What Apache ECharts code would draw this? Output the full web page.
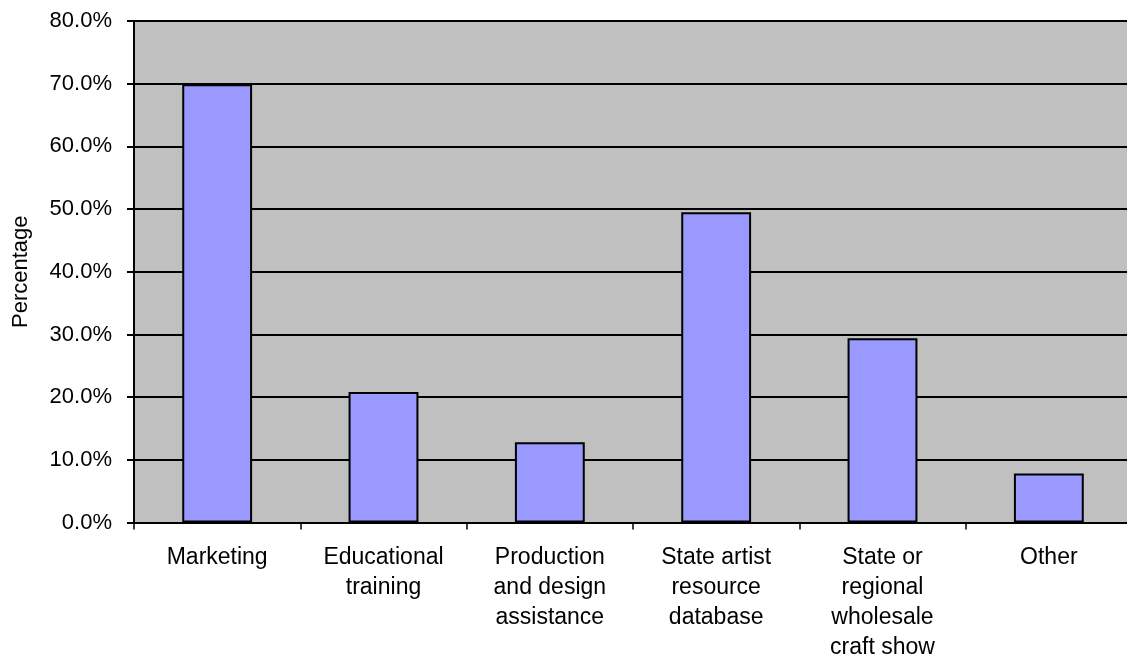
<!DOCTYPE html>
<html>
<head>
<meta charset="utf-8">
<script src="https://cdn.jsdelivr.net/npm/echarts@6/dist/echarts.min.js"></script>
<style>html,body{margin:0;padding:0;background:#fff}#c{width:1127px;height:655px}</style>
</head>
<body>
<div id="c"></div>
<script>
const categories = ["Marketing", "Educational\ntraining", "Production\nand design\nassistance", "State artist\nresource\ndatabase", "State or\nregional\nwholesale\ncraft show", "Other"];
const values = [69.9, 20.8, 12.8, 49.5, 29.4, 7.8];
const yAxisName = "Percentage";

const FONT = 'Arial, "Liberation Sans", sans-serif';
const chart = echarts.init(document.getElementById('c'), null, {renderer: 'canvas'});
chart.setOption({
  animation: false,
  grid: {left: 134, top: 21, right: -5, bottom: 132.5, containLabel: false, outerBoundsMode: 'none',
    show: true, backgroundColor: '#c0c0c0', borderColor: '#808080', borderWidth: 1},
  xAxis: {
    type: 'category', data: categories,
    axisLine: {lineStyle: {color: '#000', width: 2}},
    axisTick: {show: true, length: 7, lineStyle: {color: '#000', width: 1.5}},
    axisLabel: {color: '#000', fontFamily: FONT, fontSize: 23, lineHeight: 30, margin: 20, interval: 0}
  },
  yAxis: {
    type: 'value', min: 0, max: 80, interval: 10,
    name: yAxisName, nameLocation: 'middle', nameGap: 102,
    nameTextStyle: {color: '#000', fontFamily: FONT, fontSize: 22},
    axisLine: {show: true, lineStyle: {color: '#000', width: 2}},
    axisTick: {show: true, length: 7, lineStyle: {color: '#000', width: 2}},
    axisLabel: {color: '#000', fontFamily: FONT, fontSize: 22, margin: 22, formatter: v => v.toFixed(1) + '%'},
    splitLine: {show: true, lineStyle: {color: '#000', width: 2}}
  },
  series: [{
    type: 'bar', data: values, barWidth: '42%',
    itemStyle: {color: '#9999ff', borderColor: '#000', borderWidth: 2}
  }]
});
</script>
</body>
</html>
